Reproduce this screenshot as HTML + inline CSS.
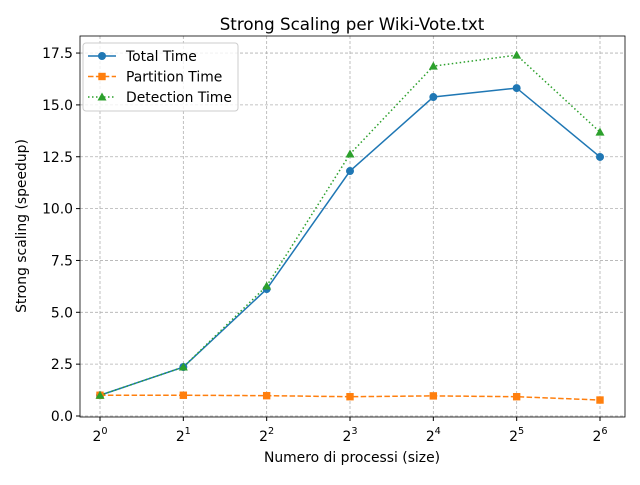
<!DOCTYPE html>
<html><head><meta charset="utf-8"><style>
body{margin:0;background:#fff;font-family:"Liberation Sans","DejaVu Sans",sans-serif}
text{font-family:"DejaVu Sans","Liberation Sans",sans-serif}
</style></head><body>
<svg id="chart" width="640" height="480" xmlns="http://www.w3.org/2000/svg"></svg>
<script>
const exponents=[0,1,2,3,4,5,6];
const totalTime=[1.0,2.36,6.12,11.81,15.38,15.81,12.49];
const partitionTime=[1.0,1.0,0.98,0.93,0.97,0.93,0.77];
const detectionTime=[1.0,2.36,6.27,12.63,16.87,17.4,13.69];
const yTicks=[0,2.5,5,7.5,10,12.5,15,17.5];
const yTickLabels=["0.0","2.5","5.0","7.5","10.0","12.5","15.0","17.5"];

const svg=document.getElementById('chart');
const NS='http://www.w3.org/2000/svg';
const L=80,R=625,T=36,B=417;
const xs=e=>100+e*(500/6);
const ys=v=>416-v*20.74;
function mk(tag,attrs,parent){const el=document.createElementNS(NS,tag);for(const k in attrs)el.setAttribute(k,attrs[k]);(parent||svg).appendChild(el);return el;}

const grid=mk('g',{});


exponents.forEach(e=>{mk('line',{x1:xs(e),x2:xs(e),y1:T,y2:B,stroke:'#b0b0b0','stroke-dasharray':'3,2','stroke-width':0.8},grid);});
yTicks.forEach(v=>{mk('line',{x1:L,x2:R,y1:ys(v),y2:ys(v),stroke:'#b0b0b0','stroke-dasharray':'3,2','stroke-width':0.8},grid);});

const xt=mk('g',{});


exponents.forEach(e=>{
 mk('line',{x1:xs(e),x2:xs(e),y1:B,y2:B+4,stroke:'#000'},xt);
 const t=mk('text',{x:xs(e),y:B+24,'font-size':13.9,'text-anchor':'middle'},xt);
 t.textContent='2';
 const s=mk('tspan',{dy:-7,'font-size':9.7},t);s.textContent=String(e);
});
const yt=mk('g',{});


yTicks.forEach((v,i)=>{
 mk('line',{x1:L-4,x2:L,y1:ys(v),y2:ys(v),stroke:'#000'},yt);
 const t=mk('text',{x:L-7,y:ys(v)+5,'font-size':13.9,'text-anchor':'end'},yt);t.textContent=yTickLabels[i];
});

function series(name,data,color,dash,marker){
 const g=mk('g',{});
 
 
 mk('polyline',{points:data.map((v,i)=>xs(exponents[i])+','+ys(v)).join(' '),fill:'none',stroke:color,'stroke-width':1.5,'stroke-dasharray':dash},g);
 data.forEach((v,i)=>drawMarker(g,marker,xs(exponents[i]),ys(v),color));
}
function drawMarker(g,m,x,y,c){
 if(m==='o')mk('circle',{cx:x,cy:y,r:4,fill:c},g);
 else if(m==='s')mk('rect',{x:x-3.7,y:y-3.7,width:7.4,height:7.4,fill:c},g);
 else mk('polygon',{points:`${x},${y-4.5} ${x-4.5},${y+3.5} ${x+4.5},${y+3.5}`,fill:c},g);
}
series('total-time-line',totalTime,'#1f77b4','','o');
series('partition-time-line',partitionTime,'#ff7f0e','5.5,2.4','s');
series('detection-time-line',detectionTime,'#2ca02c','1.5,2.5','^');

mk('rect',{x:L,y:T,width:R-L,height:B-T,fill:'none',stroke:'#000','stroke-width':0.8});

const title=mk('text',{x:352,y:30,'font-size':16.7,'text-anchor':'middle'});

title.textContent='Strong Scaling per Wiki-Vote.txt';
const xl=mk('text',{x:352,y:462,'font-size':13.9,'text-anchor':'middle'});

xl.textContent='Numero di processi (size)';
const yl=mk('text',{x:26,y:226,'font-size':13.9,'text-anchor':'middle',transform:'rotate(-90 26 226)'});

yl.textContent='Strong scaling (speedup)';

const lg=mk('g',{});

mk('rect',{x:83,y:43,width:155,height:68,rx:3,fill:'#fff','fill-opacity':0.8,stroke:'#ccc'},lg);
const entries=[['Total Time','#1f77b4','','o'],['Partition Time','#ff7f0e','5.5,2.4','s'],['Detection Time','#2ca02c','1.5,2.5','^']];
entries.forEach((en,i)=>{
 const y=56+i*20.5;
 const e=mk('g',{},lg);
 
 mk('line',{x1:88,x2:116,y1:y,y2:y,stroke:en[1],'stroke-width':1.5,'stroke-dasharray':en[2]},e);
 drawMarker(e,en[3],102,y,en[1]);
 const t=mk('text',{x:126,y:y+5,'font-size':13.9},e);t.textContent=en[0];
});
</script>
</body></html>
